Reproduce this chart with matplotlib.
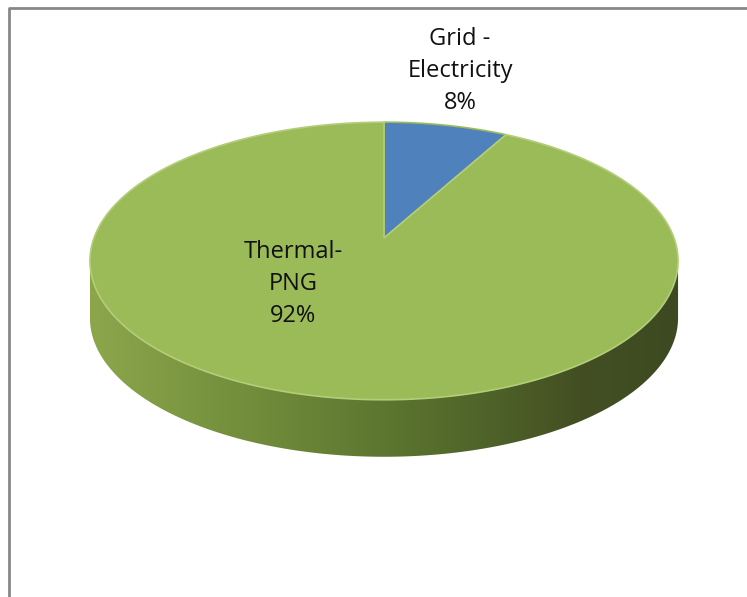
"""3D-style pie chart: energy share by source."""

import matplotlib

matplotlib.use("Agg")

import matplotlib.pyplot as plt  # noqa: E402
import numpy as np  # noqa: E402
from matplotlib.colors import LinearSegmentedColormap  # noqa: E402
from matplotlib.patches import Polygon  # noqa: E402

labels = ["Grid -\nElectricity", "Thermal-\nPNG"]
shares = [8, 92]
colors = ["#4f81bd", "#9bbb59"]
side_colors = ["#8ca64c", "#7c9741", "#6c8738", "#5d7630", "#4f6429", "#434f23", "#3d4a21"]

# pixel geometry of the tilted disk
CX, CY = 384, 238
A, B = 290, 135
K = 0.1655  # perspective strength
DEPTH = 57
W, H = 747, 597


def project(theta):
    # theta measured clockwise from 12 o'clock on the flat disk
    u, v = np.sin(theta), np.cos(theta)
    w = 1 + K * v
    return CX + A * u / w, CY - B * v / w


def wedge(t0, t1, n=200):
    t = np.linspace(t0, t1, n)
    x, y = project(t)
    return np.column_stack([np.r_[CX, x], np.r_[CY, y]])


fig = plt.figure(figsize=(W / 100, H / 100), dpi=100)
ax = fig.add_axes([0, 0, 1, 1])
ax.set_xlim(0, W)
ax.set_ylim(H, 0)
ax.axis("off")

# frame (only top and left edges are inside the crop)
ax.plot([8.5, 8.5, W + 5], [H + 5, 7.5, 7.5], color="#888888", lw=2, solid_capstyle="butt")

# side wall: front half of the rim, between the widest points
t_a = np.pi * 0.5 + np.arcsin(K)
t_b = np.pi * 1.5 - np.arcsin(K)
t = np.linspace(t_a, t_b, 300)
rx, ry = project(t)
side = np.column_stack([np.r_[rx, rx[::-1]], np.r_[ry, ry[::-1] + DEPTH]])
side_patch = Polygon(side, closed=True, facecolor="none", edgecolor="none")
ax.add_patch(side_patch)
cmap = LinearSegmentedColormap.from_list("side", side_colors)
grad = np.linspace(0, 1, 256)[None, :]
img = ax.imshow(grad, cmap=cmap, extent=[rx.min(), rx.max(), ry.max() + DEPTH, ry.min()],
                aspect="auto", zorder=1, interpolation="bilinear")
img.set_clip_path(side_patch)

# top faces
total = sum(shares)
start = 0.0
for share, color in zip(shares, colors):
    end = start + 2 * np.pi * share / total
    ax.add_patch(Polygon(wedge(start, end), closed=True, facecolor=color,
                         edgecolor="#b3cd78" if color == colors[1] else "#9bbb59",
                         lw=1.2, zorder=2))
    start = end

font = dict(family=["Open Sans", "DejaVu Sans"], fontsize=17, ha="center", va="center",
            color="#111111", linespacing=1.43, zorder=3)
ax.text(460, 71, f"{labels[0]}\n{shares[0]}%", **font)
ax.text(293, 284, f"{labels[1]}\n{shares[1]}%", **font)

fig.savefig("out.png", dpi=100, facecolor="white")
